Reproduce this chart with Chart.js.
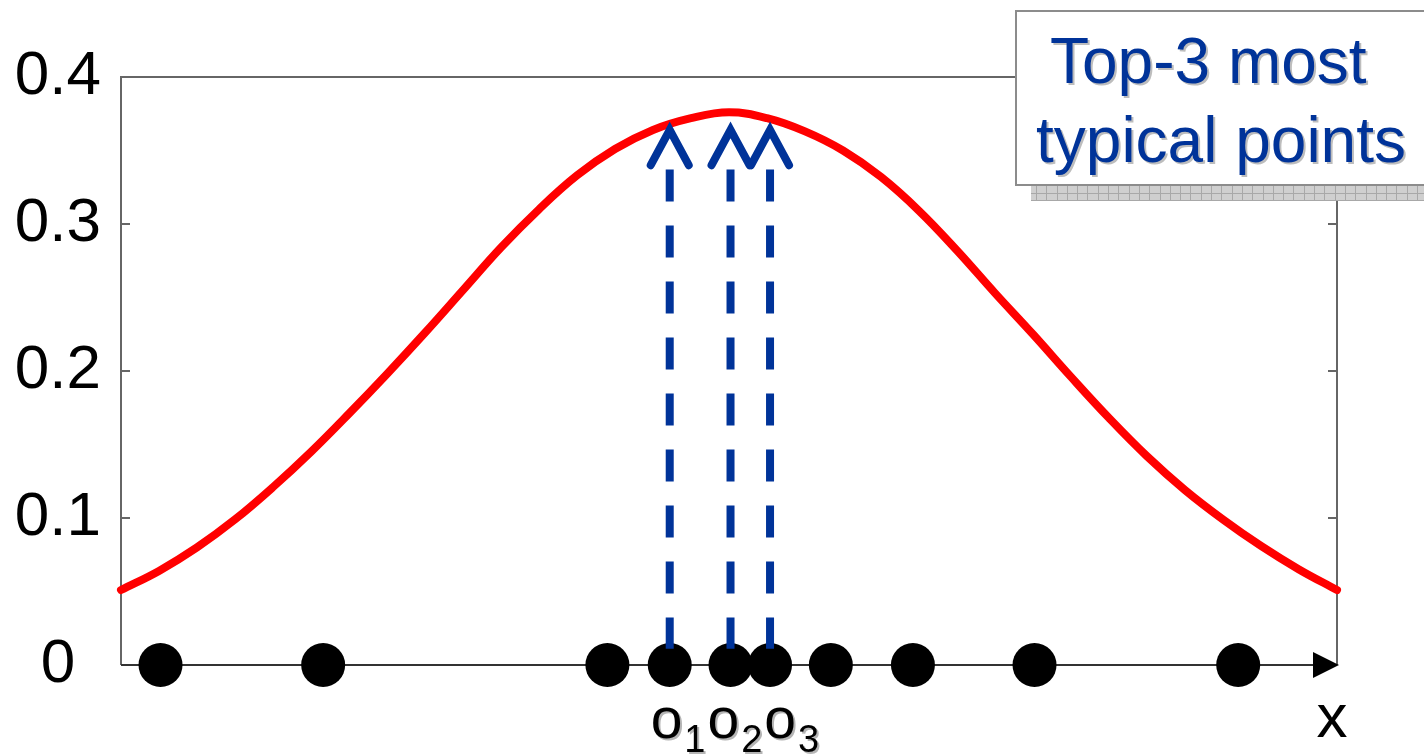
<!DOCTYPE html>
<html>
<head>
<meta charset="utf-8">
<script src="https://cdn.jsdelivr.net/npm/chart.js@4"></script>
<style>
  html, body { margin: 0; padding: 0; background: #fff; }
  canvas { display: block; }
</style>
</head>
<body>
<canvas id="chart" width="1424" height="755"></canvas>
<script>
// Density curve sampled along x
const curveX = [-4, -3.75, -3.5, -3.25, -3, -2.75, -2.5, -2.25, -2, -1.75, -1.5, -1.25, -1, -0.75, -0.5, -0.25,
                0, 0.25, 0.5, 0.75, 1, 1.25, 1.5, 1.75, 2, 2.25, 2.5, 2.75, 3, 3.25, 3.5, 3.75, 4];
const curveY = [0.051, 0.064, 0.080, 0.099, 0.121, 0.145, 0.171, 0.198, 0.226, 0.255, 0.284, 0.310, 0.333, 0.351, 0.364, 0.372,
                0.376, 0.372, 0.363, 0.350, 0.332, 0.309, 0.282, 0.253, 0.225, 0.196, 0.168, 0.142, 0.119, 0.099, 0.081, 0.065, 0.051];

// Observed objects on the x axis
const pointX = [-3.74, -2.67, -0.80, -0.39, 0.01, 0.27, 0.67, 1.21, 2.01, 3.35];

// The three most typical objects (indices into pointX) and their subscripts
const typicalIndex = [3, 4, 5];
const typicalSubscripts = ['1', '2', '3'];

const yTickValues = [0, 0.1, 0.2, 0.3, 0.4];
const noteLines = ['Top-3 most', 'typical points'];
const xAxisTitle = 'x';

const FONT = '"Liberation Sans", Arial, Helvetica, sans-serif';
const BLUE = '#003399';

// Arrow geometry (data units)
const SHAFT_TOP = 0.337, SHAFT_BOTTOM = 0.011;
const HEAD_TIP = 0.364, HEAD_BASE = 0.340, HEAD_HALF = 0.125;

const datasets = [];
typicalIndex.forEach(i => {
  const x = pointX[i];
  datasets.push({
    data: [{x: x - HEAD_HALF, y: HEAD_BASE}, {x: x, y: HEAD_TIP}, {x: x + HEAD_HALF, y: HEAD_BASE}],
    showLine: true, borderColor: BLUE, borderWidth: 8,
    borderCapStyle: 'round', borderJoinStyle: 'miter',
    pointRadius: 0, clip: false, order: 0
  });
  datasets.push({
    data: [{x: x, y: SHAFT_TOP}, {x: x, y: SHAFT_BOTTOM}],
    showLine: true, borderColor: BLUE, borderWidth: 8,
    borderDash: [32, 24], borderCapStyle: 'butt',
    pointRadius: 0, clip: false, order: 0
  });
});
datasets.push({
  data: pointX.map(x => ({x: x, y: 0})),
  showLine: false, pointRadius: 22, pointBackgroundColor: '#000',
  pointBorderWidth: 0, pointBorderColor: '#000', clip: false, order: 1
});
datasets.push({
  data: curveX.map((x, i) => ({x: x, y: curveY[i]})),
  showLine: true, borderColor: '#ff0000', borderWidth: 8,
  borderCapStyle: 'round', borderJoinStyle: 'round', tension: 0.4,
  pointRadius: 0, clip: false, order: 2
});

// Frame with inward ticks and the x axis arrow
const framePlugin = {
  id: 'frame',
  beforeDatasetsDraw(chart) {
    const {ctx, chartArea: {left, right, top, bottom}, scales: {y}} = chart;
    ctx.save();
    ctx.strokeStyle = '#666';
    ctx.lineWidth = 2;
    ctx.beginPath();
    ctx.moveTo(left, bottom);
    ctx.lineTo(left, top);
    ctx.lineTo(right, top);
    ctx.lineTo(right, bottom);
    ctx.stroke();

    ctx.beginPath();
    yTickValues.forEach(v => {
      const py = Math.round(y.getPixelForValue(v));
      ctx.moveTo(left, py); ctx.lineTo(left + 9, py);
      ctx.moveTo(right, py); ctx.lineTo(right - 9, py);
    });
    ctx.stroke();

    const y0 = y.getPixelForValue(0);
    ctx.strokeStyle = '#333';
    ctx.beginPath();
    ctx.moveTo(left, y0);
    ctx.lineTo(right - 20, y0);
    ctx.stroke();
    ctx.fillStyle = '#000';
    ctx.beginPath();
    ctx.moveTo(right + 2, y0);
    ctx.lineTo(right - 24, y0 - 13);
    ctx.lineTo(right - 24, y0 + 13);
    ctx.closePath();
    ctx.fill();
    ctx.restore();
  }
};

// Point names, axis title and the callout box
const textPlugin = {
  id: 'texts',
  afterDraw(chart) {
    const {ctx, chartArea: {right}, scales: {x, y}} = chart;
    ctx.save();

    // o1 o2 o3 under the typical points
    const mainFont = '57px ' + FONT, subFont = '38px ' + FONT, gap = 2;
    ctx.font = mainFont; const wO = ctx.measureText('o').width;
    ctx.font = subFont;
    const wSubs = typicalSubscripts.map(s => ctx.measureText(s).width);
    const total = typicalSubscripts.length * wO + wSubs.reduce((a, b) => a + b, 0) + gap * (typicalSubscripts.length * 2 - 1);
    const centre = (x.getPixelForValue(pointX[typicalIndex[0]]) + x.getPixelForValue(pointX[typicalIndex[typicalIndex.length - 1]])) / 2 + 15;
    let cx = centre - total / 2;
    const y0 = y.getPixelForValue(0);
    ctx.fillStyle = '#000';
    ctx.shadowColor = '#b5b5b5';
    ctx.shadowOffsetX = 2;
    ctx.shadowOffsetY = 2;
    ctx.textAlign = 'left';
    ctx.textBaseline = 'alphabetic';
    typicalSubscripts.forEach((s, k) => {
      ctx.font = mainFont;
      ctx.fillText('o', cx, y0 + 73);
      cx += wO + gap;
      ctx.font = subFont;
      ctx.fillText(s, cx, y0 + 87);
      cx += wSubs[k] + gap;
    });

    // axis title
    ctx.shadowColor = 'transparent';
    ctx.font = '62px ' + FONT;
    ctx.textAlign = 'center';
    ctx.fillText(xAxisTitle, right - 5, y0 + 72);

    // callout shadow strip
    ctx.fillStyle = '#cfcfcf';
    ctx.fillRect(1031, 185, 400, 16);
    ctx.strokeStyle = '#a8a8a8';
    ctx.lineWidth = 1;
    ctx.beginPath();
    for (let xx = 1036; xx < 1424; xx += 10.3) {
      ctx.moveTo(Math.round(xx) + 0.5, 185);
      ctx.lineTo(Math.round(xx) + 0.5, 201);
    }
    ctx.moveTo(1031, 193.5); ctx.lineTo(1424, 193.5);
    ctx.moveTo(1031, 200.5); ctx.lineTo(1424, 200.5);
    ctx.stroke();

    // callout box
    ctx.fillStyle = '#fff';
    ctx.fillRect(1015, 10, 420, 175);
    ctx.strokeStyle = '#8c8c8c';
    ctx.lineWidth = 2;
    ctx.strokeRect(1016, 11, 420, 174);

    ctx.font = '64px ' + FONT;
    ctx.fillStyle = BLUE;
    ctx.textAlign = 'left';
    ctx.shadowColor = '#bdbdbd';
    ctx.shadowOffsetX = 2;
    ctx.shadowOffsetY = 2;
    ctx.fillText(noteLines[0], 1050, 83);
    ctx.fillText(noteLines[1], 1036, 162);
    ctx.restore();
  }
};

new Chart(document.getElementById('chart'), {
  type: 'scatter',
  data: { datasets: datasets },
  options: {
    responsive: false,
    animation: false,
    events: [],
    layout: { padding: { top: 77, left: 0, right: 87, bottom: 90 } },
    plugins: { legend: { display: false }, tooltip: { enabled: false } },
    scales: {
      x: { type: 'linear', min: -4, max: 4, display: false },
      y: {
        type: 'linear', min: 0, max: 0.4,
        afterBuildTicks: scale => { scale.ticks = yTickValues.map(v => ({value: v})); },
        afterFit: scale => { scale.width = 121; scale.paddingTop = 0; scale.paddingBottom = 0; },
        grid: { display: false, drawTicks: false },
        border: { display: false },
        ticks: {
          crossAlign: 'center', padding: 20,
          color: '#000',
          font: { family: FONT, size: 62 }
        }
      }
    }
  },
  plugins: [framePlugin, textPlugin]
});
</script>
</body>
</html>
